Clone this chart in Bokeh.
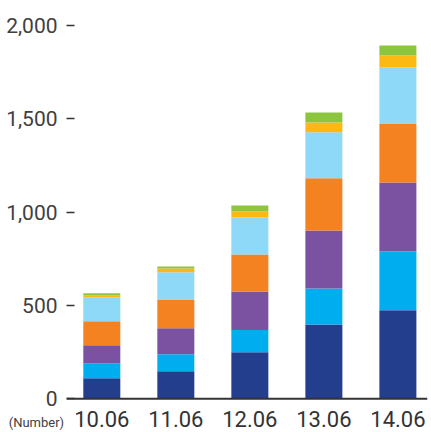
from bokeh.plotting import figure
from bokeh.models import ColumnDataSource, Range1d, FixedTicker, Span
from bokeh.core.properties import value
from bokeh.embed import file_html
from bokeh.resources import INLINE

categories = ["10.06", "11.06", "12.06", "13.06", "14.06"]
series_names = ["s1", "s2", "s3", "s4", "s5", "s6", "s7"]
s1 = [110, 148, 250, 398, 475]
s2 = [81, 91, 118, 193, 314]
s3 = [96, 139, 207, 311, 370]
s4 = [129, 154, 198, 280, 316]
s5 = [128, 146, 198, 246, 300]
s6 = [11, 20, 33, 52, 64]
s7 = [11, 11, 32, 54, 54]
colors = ["#243E8E", "#00AEEF", "#7B52A1", "#F48221", "#8ED8F8", "#FDB913", "#8CC63F"]
y_ticks = [0, 500, 1000, 1500, 2000]
y_tick_labels = ["0", "500", "1,000", "1,500", "2,000"]
unit_label = "(Number)"

xs = list(range(len(categories)))
src = ColumnDataSource(dict(x=xs, s1=s1, s2=s2, s3=s3, s4=s4, s5=s5, s6=s6, s7=s7))

font = "Roboto"
p = figure(width=431, height=432, output_backend="svg", toolbar_location=None,
           x_range=Range1d(-0.477, 4.40), y_range=Range1d(-180.5, 2080),
           x_axis_location=None,
           min_border_left=66, min_border_right=4, min_border_top=10, min_border_bottom=0)
p.vbar_stack(series_names, x="x", width=0.5, color=colors, source=src, line_width=0)

p.outline_line_color = None
p.xgrid.visible = False
p.ygrid.visible = False

ya = p.yaxis[0]
ya.ticker = FixedTicker(ticks=y_ticks)
ya.major_label_overrides = {t: l for t, l in zip(y_ticks, y_tick_labels)}
ya.axis_line_color = None
ya.major_tick_in = 8
ya.major_tick_out = 0
ya.major_tick_line_color = "#333333"
ya.major_tick_line_width = 1.5
ya.minor_tick_line_color = None
ya.major_label_text_font = font
ya.major_label_text_font_size = "21px"
ya.major_label_text_color = "#404040"
ya.major_label_standoff = 9

# unit label sits at the bottom-left corner, on the line of the category labels
ya.axis_label = unit_label + "\n"
ya.axis_label_text_font = font
ya.axis_label_text_font_style = "normal"
ya.axis_label_text_font_size = "13px"
ya.axis_label_text_color = "#404040"
ya.axis_label_orientation = "horizontal"
ya.axis_label_standoff = -61
ya.axis_label_align = "start"
if "axis_label_text_line_height" in ya.properties():
    ya.axis_label_text_line_height = 1.4

base = Span(location=0, dimension="width", line_color="#333333", line_width=2)
p.add_layout(base)

p.text(x=xs, y=[-109] * len(xs), text=categories, text_align="center",
       text_baseline="alphabetic", text_font=value(font), text_font_size="22px",
       text_color="#333333")

open("out.html", "w").write(file_html(p, INLINE))
